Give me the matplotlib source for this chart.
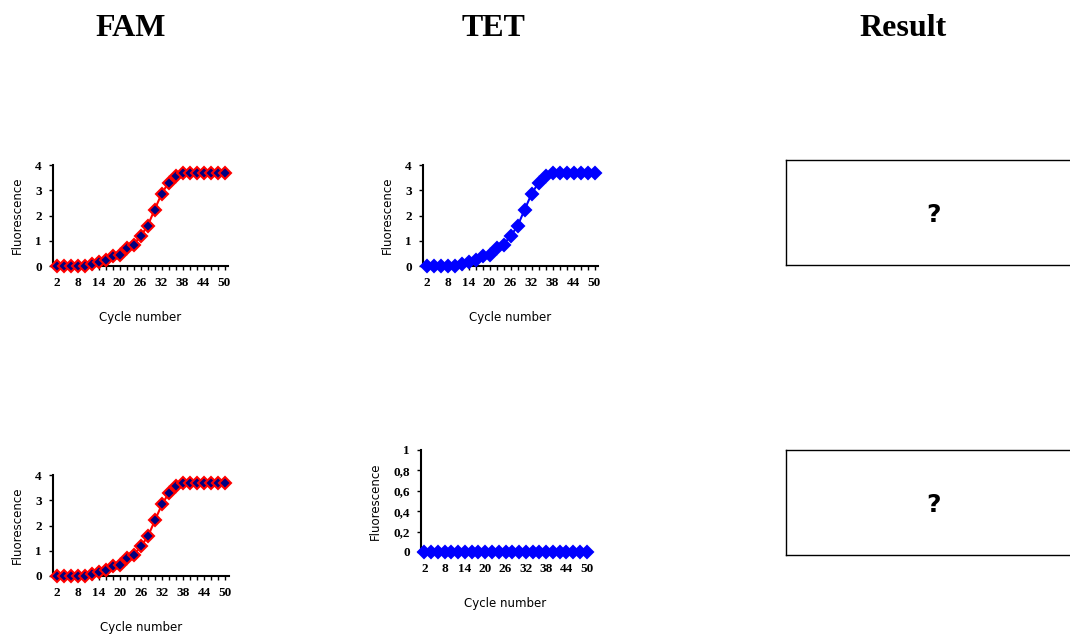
import numpy as np
import matplotlib.pyplot as plt
from matplotlib.ticker import FixedLocator

# cycles 2..50, every second cycle
cycles = [2, 4, 6, 8, 10, 12, 14, 16, 18, 20, 22, 24, 26, 28, 30, 32, 34, 36, 38, 40, 42, 44, 46, 48, 50]
fam = [0, 0, 0, 0, 0, 0.08, 0.15, 0.22, 0.38, 0.45, 0.70, 0.85, 1.18, 1.58, 2.22, 2.85,
       3.30, 3.55, 3.70, 3.70, 3.70, 3.70, 3.70, 3.70, 3.70]
tet_pos = [0, 0, 0, 0, 0, 0.08, 0.15, 0.22, 0.38, 0.45, 0.70, 0.85, 1.18, 1.58, 2.22, 2.85,
           3.30, 3.55, 3.70, 3.70, 3.70, 3.70, 3.70, 3.70, 3.70]
tet_neg = [0] * 25
xtick_labels = [2, 8, 14, 20, 26, 32, 38, 44, 50]
titles = ["FAM", "TET", "Result"]

W, H = 1070, 634
fig = plt.figure(figsize=(W / 100, H / 100), dpi=100)

def box(l, t, r, b):
    return [l / W, 1 - b / H, (r - l) / W, (b - t) / H]

def panel(rect, y, line_col, face_col, ymax, yticks, ylabels):
    ax = fig.add_axes(rect)
    ax.plot(cycles, y, color=line_col, lw=1.5, marker="D", ms=6,
            mfc=face_col, mec=line_col, mew=1.5, clip_on=False, zorder=3)
    ax.set_xlim(1, 51)
    ax.set_ylim(0, ymax)
    for s in ["top", "right"]:
        ax.spines[s].set_visible(False)
    for s in ["left", "bottom"]:
        ax.spines[s].set_linewidth(1.5)
    ax.set_xticks(xtick_labels)
    ax.set_xticklabels([str(v) for v in xtick_labels])
    ax.xaxis.set_minor_locator(FixedLocator(cycles))
    ax.set_yticks(yticks)
    ax.set_yticklabels(ylabels)
    ax.tick_params(axis="both", direction="out", length=3, width=1, labelsize=9.5, pad=5)
    ax.tick_params(axis="x", which="minor", direction="out", length=3, width=1)
    for lab in ax.get_xticklabels() + ax.get_yticklabels():
        lab.set_fontfamily("Liberation Serif")
        lab.set_fontweight("bold")
    ax.set_ylabel("Fluorescence", fontsize=8.5, family="DejaVu Sans", labelpad=8)
    ax.set_xlabel("Cycle number", fontsize=8.5, family="DejaVu Sans", labelpad=16)
    return ax

y4 = [0, 1, 2, 3, 4]
panel(box(53, 165, 228, 266), fam, "red", "#000080", 4, y4, [str(v) for v in y4])
panel(box(423, 165, 598, 266), tet_pos, "blue", "blue", 4, y4, [str(v) for v in y4])
panel(box(53, 475, 229, 576), fam, "red", "#000080", 4, y4, [str(v) for v in y4])
y1 = [0, 0.2, 0.4, 0.6, 0.8, 1]
panel(box(421, 450, 590, 552), tet_neg, "blue", "blue", 1, y1,
      ["0", "0,2", "0,4", "0,6", "0,8", "1"])

# result boxes
for t, b in [(160, 265), (450, 555)]:
    ax = fig.add_axes(box(786, t, 1075, b))
    ax.set_xticks([])
    ax.set_yticks([])
    for s in ax.spines.values():
        s.set_linewidth(1)
    ax.spines["right"].set_visible(False)
    ax.text(0.51, 0.48, "?", ha="center", va="center", fontsize=18,
            fontweight="bold", family="DejaVu Sans", transform=ax.transAxes)

for x, s in zip([131, 493, 903], titles):
    fig.text(x / W, 1 - 28 / H, s, ha="center", va="center", fontsize=23,
             fontweight="bold", family="Liberation Serif")

fig.savefig("out.png", dpi=100)
